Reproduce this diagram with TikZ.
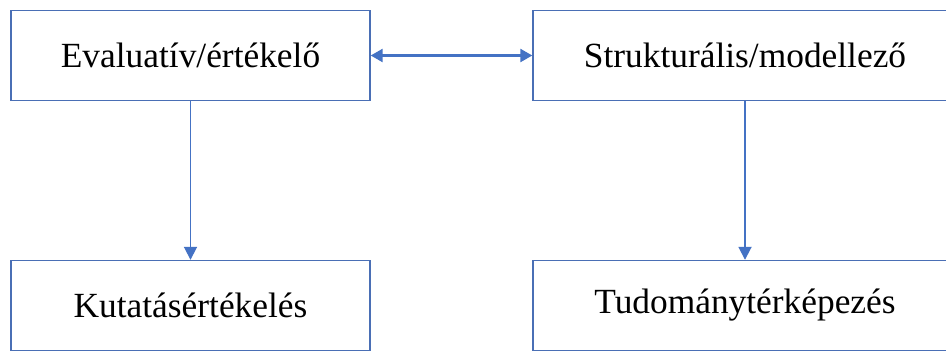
\documentclass[tikz,border=0pt]{standalone}
\usepackage{fontspec}
\setmainfont{Liberation Serif}
\usetikzlibrary{arrows.meta}
\definecolor{boxline}{HTML}{4A6FB5}
\definecolor{arrowblue}{HTML}{4472C4}
\begin{document}
\begin{tikzpicture}[x=1bp,y=-1bp,
  box/.style={draw=boxline, line width=1.4bp, fill=white, minimum height=90bp, inner sep=0pt, font=\fontsize{35.5}{40}\selectfont},
  link/.style={draw=arrowblue, line width=1.8bp, -{Triangle[length=13bp,width=13bp]}},
  both/.style={draw=arrowblue, line width=2.4bp, {Triangle[length=12bp,width=13bp]}-{Triangle[length=12bp,width=13bp]}}]
  \clip (0,0) rectangle (946,350);
  \fill[white] (0,0) rectangle (946,350);
  \node[box, minimum width=359bp] (eval) at (190.5,55.5) {Evaluatív/értékelő};
  \node[box, minimum width=424bp] (strukt) at (745,55.5) {Strukturális/modellező};
  \node[box, minimum width=359bp] (kut) at (190.5,305.5) {Kutatásértékelés};
  \node[box, minimum width=424bp] (tud) at (745,305.5) {Tudománytérképezés};
  \draw[both] (eval.east) -- (strukt.west);
  \draw[link] (eval.south) -- (kut.north);
  \draw[link] (strukt.south) -- (tud.north);
\end{tikzpicture}
\end{document}
